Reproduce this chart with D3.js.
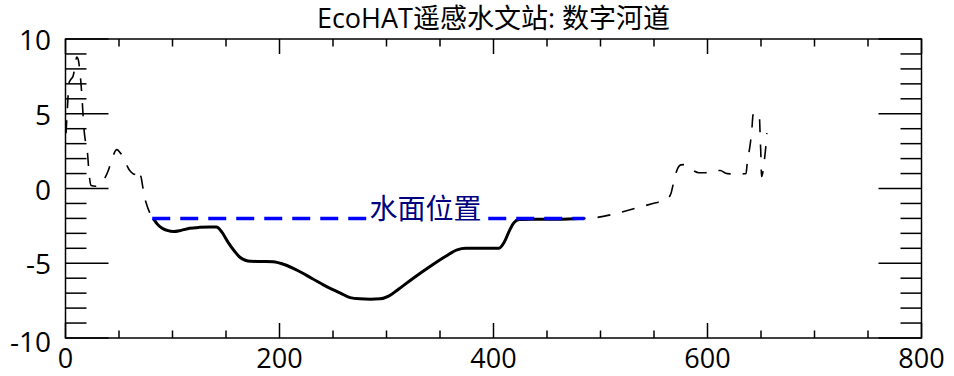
<!DOCTYPE html>
<html>
<head>
<meta charset="utf-8">
<script src="https://cdn.jsdelivr.net/npm/d3@7"></script>
<style>
    body { margin: 0; background: white; }
    text { font-family: "Open Sans", "Noto Sans CJK SC", sans-serif; }
</style>
</head>
<body>
<svg id="chart_svg" width="954" height="376"></svg>
<script>
// river cross section
let profileX = [0.5, 1.5, 2.5, 3, 5, 7, 9, 10.5, 12, 13.5, 14.5, 15.5, 16.5, 17.5, 19, 20.5, 21.5, 22.5, 24, 28, 32, 36, 40, 44, 48, 51, 54, 57, 60, 63, 66, 67.5, 69, 70.5, 72, 74, 76, 78, 80,
    82, 86, 90, 95, 101, 108, 116, 125, 135, 141, 146, 152, 158, 163, 168, 173, 185, 194, 205, 216, 230, 245, 257, 266, 275, 285, 294, 302, 310, 325, 341, 355, 366, 374, 390, 405, 410, 415, 419, 424, 435, 460, 475, 485,
    495, 510, 521, 535, 549, 562, 566, 568, 570, 572.5, 575, 578, 582, 585, 588, 592, 597, 602, 607, 612, 617, 622, 628, 633, 636,
    637, 638.5, 640, 641.5, 642.5, 644, 646, 648.5, 649, 649.5, 650, 650.5, 651.5, 653, 654.5, 655.5]
let profileY = [3.7, 5.0, 6.3, 7.0, 7.3, 7.5, 8.2, 8.8, 8.6, 7.8, 7.0, 6.0, 4.8, 3.8, 3.0, 2.4, 1.5, 0.7, 0.2, 0.15, 0.3, 0.6, 1.2, 2.1, 2.6, 2.4, 2.1, 1.6, 1.2, 1.0, 0.9, 0.6, 0.9, 0.8, 0.2, -0.6, -1.1, -1.5, -1.8,
    -2.0, -2.4, -2.65, -2.8, -2.88, -2.8, -2.66, -2.6, -2.58, -2.58, -2.9, -3.6, -4.2, -4.6, -4.8, -4.87, -4.88, -4.9, -5.1, -5.45, -6.0, -6.6, -7.0, -7.3, -7.38, -7.4, -7.38, -7.2, -6.8, -6.0, -5.2, -4.55, -4.1, -4.0, -4.0, -4.0, -3.6, -2.8, -2.3, -2.08, -2.05, -2.05, -2.02, -2.0,
    -1.95, -1.75, -1.55, -1.28, -1.0, -0.72, -0.3, 0.3, 0.9, 1.4, 1.58, 1.6, 1.5, 1.3, 1.15, 1.05, 1.05, 1.1, 1.2, 1.2, 1.02, 0.97, 0.95, 0.98, 1.0,
    1.6, 2.3, 3.0, 4.0, 4.9, 5.1, 5.0, 4.8, 4.0, 3.0, 2.0, 0.8, 1.0, 1.8, 2.8, 3.7]

// water surface
let waterLevel = -2
let waterStart = 82
let waterEnd = 485
let waterLabel = "水面位置"
let waterLabelX = 284

let titleText = "EcoHAT遥感水文站: 数字河道"
let xTicks = [0, 200, 400, 600, 800]
let yTicks = [-10, -5, 0, 5, 10]

let svg;
let g;

document.addEventListener('DOMContentLoaded', function () {
    svg = d3.select("#chart_svg")
    g = svg.append("g")

    let left = 65.5, right = 921.5, top = 39, bottom = 338

    let x = d3.scaleLinear().domain([0, 800]).range([left, right])
    let y = d3.scaleLinear().domain([-10, 10]).range([bottom, top])

    svg.append("rect").attr("width", 954).attr("height", 376).attr("fill", "white").lower()

    let points = profileX.map((d, i) => [d, profileY[i]])
    let channel = points.filter(p => p[0] >= waterStart && p[0] <= waterEnd)

    let line = d3.line()
        .x(d => x(d[0]))
        .y(d => y(d[1]))
        .curve(d3.curveMonotoneX)

    //whole profile, thin dashed
    g.append("path")
        .attr("d", line(points))
        .attr("fill", "none")
        .attr("stroke", "black")
        .attr("stroke-width", 1.6)
        .attr("stroke-dasharray", "13,12")

    //wet part of the channel, thick solid
    g.append("path")
        .attr("d", line(channel))
        .attr("fill", "none")
        .attr("stroke", "black")
        .attr("stroke-width", 3)

    //water line
    g.append("line")
        .attr("x1", x(waterStart) - 1)
        .attr("x2", x(waterEnd))
        .attr("y1", y(waterLevel))
        .attr("y2", y(waterLevel))
        .attr("stroke", "#0000ff")
        .attr("stroke-width", 3.5)
        .attr("stroke-dasharray", "18,10")

    let label = g.append("text")
        .attr("x", x(waterLabelX))
        .attr("y", y(waterLevel) + 1)
        .attr("font-size", 28)
        .attr("fill", "#000080")
        .text(waterLabel)
    let bb = label.node().getBBox()
    g.insert("rect", "text")
        .attr("x", bb.x - 2)
        .attr("y", bb.y)
        .attr("width", bb.width + 4)
        .attr("height", bb.height)
        .attr("fill", "white")

    //axes, ticks on all four sides
    let axes = svg.append("g").attr("stroke", "black").attr("stroke-width", 1.5)
    axes.append("rect")
        .attr("x", left).attr("y", top)
        .attr("width", right - left).attr("height", bottom - top)
        .attr("fill", "none")

    d3.range(0, 801, 50).forEach((v) => {
        let len = v % 200 == 0 ? 15 : 7.5
        axes.append("line").attr("x1", x(v)).attr("x2", x(v)).attr("y1", bottom).attr("y2", bottom - len)
        axes.append("line").attr("x1", x(v)).attr("x2", x(v)).attr("y1", top).attr("y2", top + len)
    })
    d3.range(-10, 11, 1).forEach((v) => {
        let len = v % 5 == 0 ? 43 : 21
        axes.append("line").attr("x1", left).attr("x2", left + len).attr("y1", y(v)).attr("y2", y(v))
        axes.append("line").attr("x1", right).attr("x2", right - len).attr("y1", y(v)).attr("y2", y(v))
    })

    svg.selectAll(".xlabel")
        .data(xTicks)
        .enter().append("text")
        .attr("class", "xlabel")
        .attr("x", d => x(d))
        .attr("y", 367.5)
        .attr("text-anchor", "middle")
        .attr("font-size", 27)
        .text(d => d)

    svg.selectAll(".ylabel")
        .data(yTicks)
        .enter().append("text")
        .attr("class", "ylabel")
        .attr("x", 51)
        .attr("y", d => y(d) + (d == -10 ? 14 : 11))
        .attr("text-anchor", "end")
        .attr("font-size", 28)
        .text(d => d)

    svg.append("text")
        .attr("x", (left + right) / 2)
        .attr("y", 28)
        .attr("text-anchor", "middle")
        .attr("font-size", 27)
        .text(titleText)
});
</script>
</body>
</html>
